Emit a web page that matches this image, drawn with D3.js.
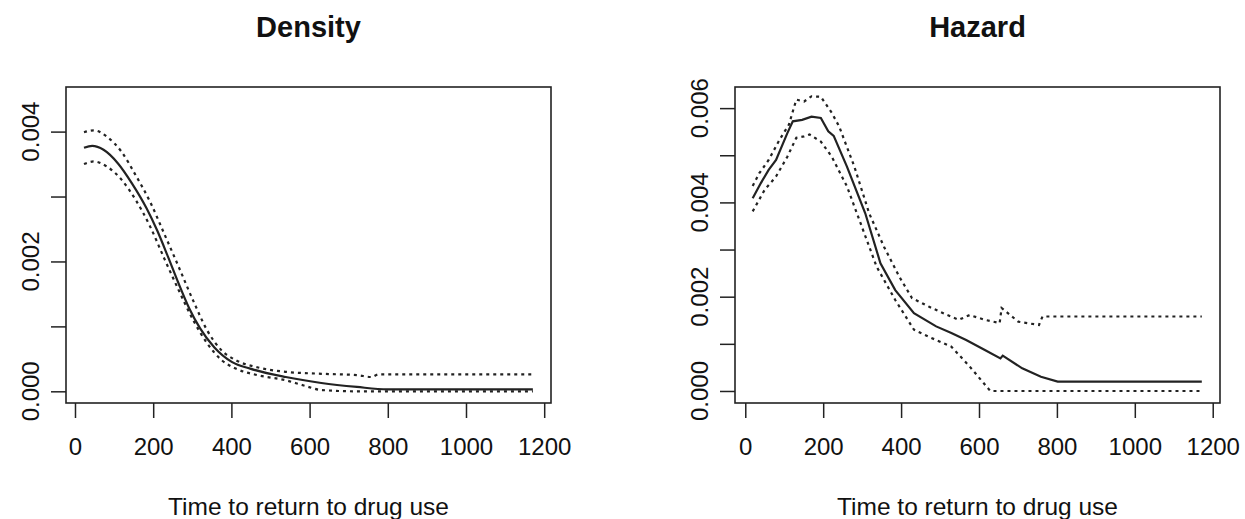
<!DOCTYPE html>
<html>
<head>
<meta charset="utf-8">
<script src="https://cdn.jsdelivr.net/npm/d3@7"></script>
<style>
  body { margin: 0; background: #fff; }
  svg text { font-family: "Liberation Sans", Arial, sans-serif; fill: #111; }
</style>
</head>
<body>
<div id="chart"></div>
<script>
// density estimate with pointwise band
const densTime  = [23, 44, 73, 110, 146, 183, 210, 238, 265, 292, 320, 356, 402, 448, 539, 630, 721, 799, 1171];
const densEst   = [0.00375, 0.00378, 0.00372, 0.00351, 0.00320, 0.00282, 0.00248, 0.00207, 0.00166, 0.00128, 0.00097, 0.00068, 0.00045, 0.00035, 0.00022, 0.000128, 0.000067, 0.00003, 0.00003];
const densUpTime = [23, 48, 82, 119, 155, 192, 228, 265, 302, 338, 375, 411, 466, 539, 630, 721, 758, 776, 1171];
const densUp     = [0.00399, 0.00402, 0.00392, 0.00369, 0.00333, 0.00292, 0.00243, 0.00192, 0.00140, 0.00094, 0.00063, 0.00048, 0.00037, 0.00030, 0.00027, 0.00025, 0.00022, 0.00026, 0.00026];
const densLoTime = [23, 48, 82, 119, 155, 192, 228, 265, 302, 338, 375, 411, 466, 539, 585, 630, 721, 1171];
const densLo     = [0.00350, 0.00354, 0.00346, 0.00326, 0.00295, 0.00254, 0.00205, 0.00156, 0.00110, 0.00074, 0.00048, 0.00035, 0.00025, 0.00017, 0.00009, 0.00002, 0, 0];

// hazard estimate with pointwise band
const hazTime = [19, 40, 60, 79, 108, 122, 146, 170, 194, 213, 227, 261, 308, 347, 385, 433, 490, 529, 567, 615, 655, 661, 711, 759, 802, 1172];
const hazEst  = [0.00409, 0.00441, 0.00469, 0.00490, 0.00547, 0.00572, 0.00575, 0.00582, 0.00579, 0.00551, 0.00541, 0.00476, 0.00377, 0.00271, 0.00214, 0.00165, 0.00137, 0.00123, 0.00108, 0.00087, 0.00069, 0.00075, 0.00048, 0.00030, 0.00020, 0.00020];
const hazUpTime = [19, 36, 60, 88, 112, 131, 151, 170, 194, 222, 241, 280, 318, 356, 395, 428, 471, 519, 548, 576, 615, 653, 658, 701, 754, 763, 1172];
const hazUp     = [0.00435, 0.00462, 0.00490, 0.00533, 0.00565, 0.00618, 0.00614, 0.00625, 0.00624, 0.00590, 0.00561, 0.00476, 0.00377, 0.00306, 0.00243, 0.00197, 0.00179, 0.00161, 0.00151, 0.00161, 0.00151, 0.00144, 0.00176, 0.00147, 0.00140, 0.00158, 0.00158];
const hazLoTime = [19, 50, 79, 108, 131, 151, 165, 194, 222, 261, 299, 337, 385, 433, 471, 529, 576, 629, 1172];
const hazLo     = [0.00381, 0.00427, 0.00455, 0.00497, 0.00537, 0.00540, 0.00544, 0.00529, 0.00497, 0.00434, 0.00349, 0.00264, 0.00193, 0.00130, 0.00115, 0.00094, 0.00052, 0, 0];

const xTicks = [0, 200, 400, 600, 800, 1000, 1200];
const densYTicks = [0, 0.001, 0.002, 0.003, 0.004];
const densYLabels = [0, 0.002, 0.004];
const hazYTicks = [0, 0.001, 0.002, 0.003, 0.004, 0.005, 0.006];
const hazYLabels = [0, 0.002, 0.004, 0.006];

const width = 1245, height = 519;
const svg = d3.select("#chart").append("svg")
  .attr("width", width)
  .attr("height", height);

function zip(xs, ys) { return xs.map((x, i) => [x, ys[i]]); }

function drawPanel(opts) {
  const x = d3.scaleLinear().domain(opts.xDomain).range([opts.left, opts.right]);
  const y = d3.scaleLinear().domain(opts.yDomain).range([opts.bottom, opts.top]);
  const g = svg.append("g");

  g.append("rect")
    .attr("x", opts.left).attr("y", opts.top)
    .attr("width", opts.right - opts.left)
    .attr("height", opts.bottom - opts.top)
    .attr("fill", "none").attr("stroke", "#222").attr("stroke-width", 1.6);

  // x axis
  const xAxis = g.append("g")
    .attr("transform", `translate(0,${opts.bottom})`)
    .call(d3.axisBottom(x).tickValues(xTicks).tickSize(15).tickPadding(20).tickFormat(d3.format("d")));
  xAxis.select(".domain").remove();
  xAxis.selectAll("line").attr("stroke", "#222").attr("stroke-width", 1.5);
  xAxis.selectAll("text").attr("font-size", 24).attr("fill", "#111")
    .attr("font-family", "'Liberation Sans', Arial, sans-serif");

  // y axis
  const yAxis = g.append("g")
    .attr("transform", `translate(${opts.left},0)`)
    .call(d3.axisLeft(y).tickValues(opts.yTicks).tickSize(15).tickFormat(""));
  yAxis.select(".domain").remove();
  yAxis.selectAll("line").attr("stroke", "#222").attr("stroke-width", 1.5);

  g.selectAll(".ylab").data(opts.yLabels).enter().append("text")
    .attr("class", "ylab")
    .attr("transform", d => `translate(${opts.left - 27},${y(d)}) rotate(-90)`)
    .attr("text-anchor", "middle")
    .attr("font-size", 24)
    .text(d => d3.format(".3f")(d));

  const line = d3.line().x(d => x(d[0])).y(d => y(d[1])).curve(opts.curve);

  opts.bands.forEach(b => {
    g.append("path")
      .attr("d", line(b))
      .attr("fill", "none").attr("stroke", "#222")
      .attr("stroke-width", 2.2).attr("stroke-dasharray", "3,4");
  });
  g.append("path")
    .attr("d", line(opts.est))
    .attr("fill", "none").attr("stroke", "#222")
    .attr("stroke-width", 2.2);

  g.append("text")
    .attr("x", (opts.left + opts.right) / 2).attr("y", 37)
    .attr("text-anchor", "middle")
    .attr("font-size", 29).attr("font-weight", "bold")
    .text(opts.title);

  g.append("text")
    .attr("x", (opts.left + opts.right) / 2).attr("y", 515)
    .attr("text-anchor", "middle")
    .attr("font-size", 24.5)
    .text("Time to return to drug use");
}

drawPanel({
  title: "Density",
  left: 66, right: 551, top: 87, bottom: 403,
  xDomain: [-23, 1217.4],
  yDomain: [-0.00018, 0.004687],
  yTicks: densYTicks, yLabels: densYLabels,
  curve: d3.curveMonotoneX,
  est: zip(densTime, densEst),
  bands: [zip(densUpTime, densUp), zip(densLoTime, densLo)]
});

drawPanel({
  title: "Hazard",
  left: 735, right: 1220, top: 87, bottom: 403,
  xDomain: [-26.4, 1218.7],
  yDomain: [-0.000255, 0.006448],
  yTicks: hazYTicks, yLabels: hazYLabels,
  curve: d3.curveLinear,
  est: zip(hazTime, hazEst),
  bands: [zip(hazUpTime, hazUp), zip(hazLoTime, hazLo)]
});
</script>
</body>
</html>
